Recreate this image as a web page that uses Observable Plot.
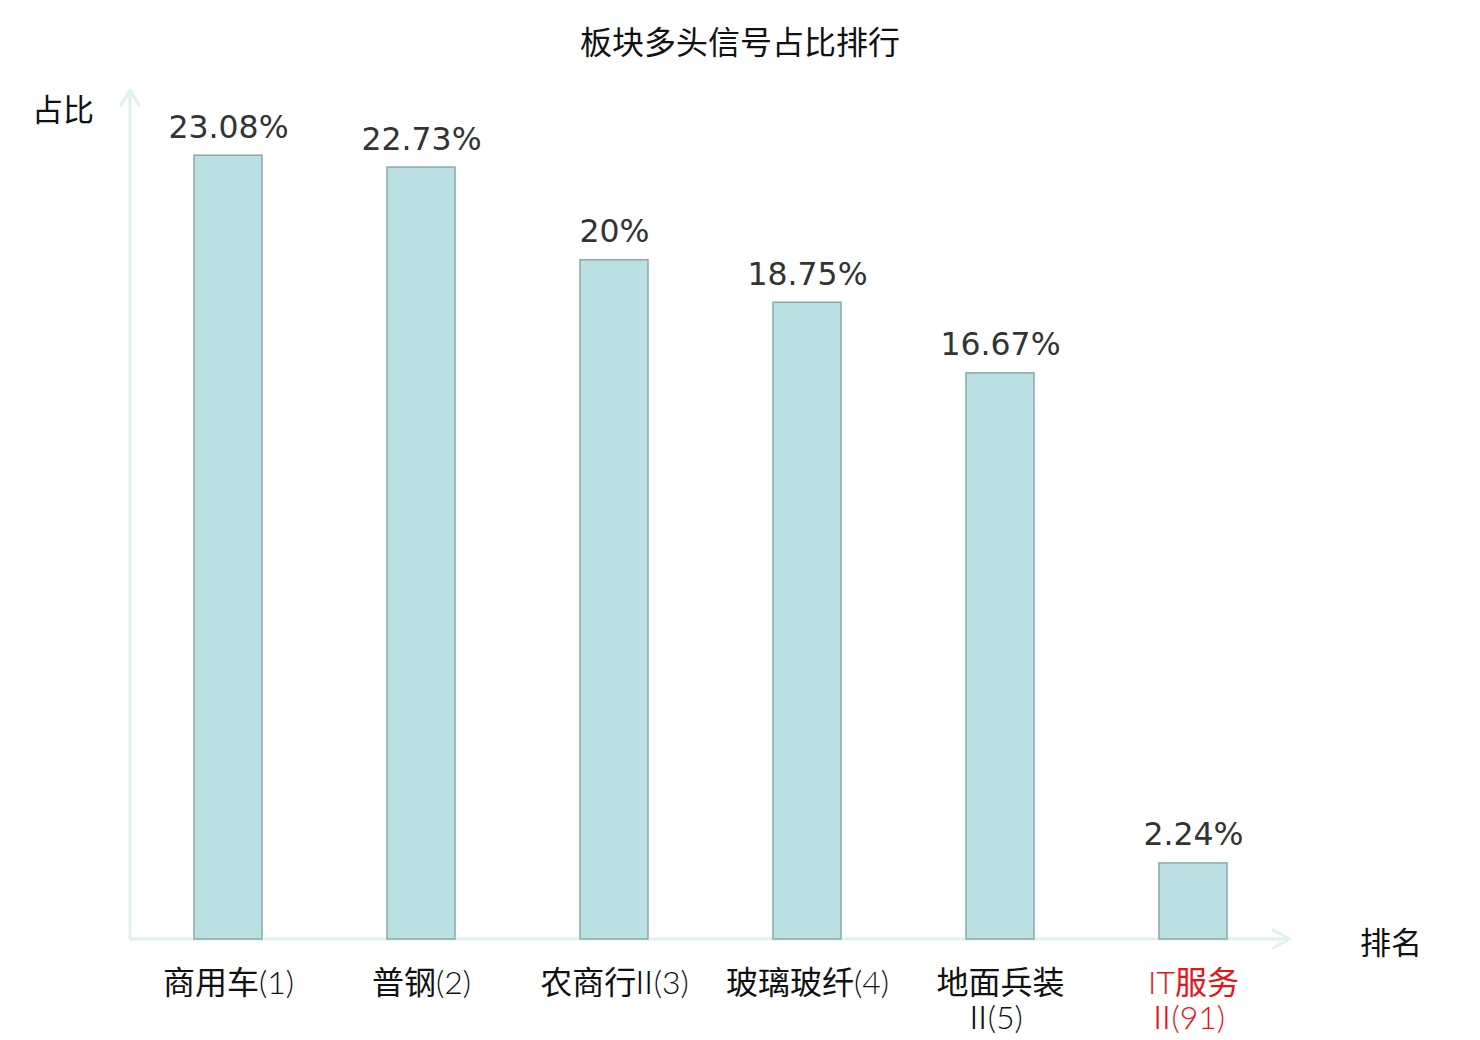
<!DOCTYPE html>
<html>
<head>
<meta charset="utf-8">
<script src="https://cdn.jsdelivr.net/npm/d3@7"></script>
<script src="https://cdn.jsdelivr.net/npm/@observablehq/plot@0.6"></script>
<style>
  html, body { margin: 0; padding: 0; background: #fff; }
  #chart svg { display: block; }
</style>
</head>
<body>
<div id="chart"></div>
<script>
const title = "板块多头信号占比排行";
const categories = ["商用车(1)", "普钢(2)", "农商行Ⅱ(3)", "玻璃玻纤(4)", "地面兵装Ⅱ(5)", "IT服务Ⅱ(91)"];
const tickLabels = ["商用车(1)", "普钢(2)", "农商行Ⅱ(3)", "玻璃玻纤(4)", "地面兵装\nⅡ(5)", "IT服务\nⅡ(91)"];
const values = [23.08, 22.73, 20, 18.75, 16.67, 2.24];
const valueLabels = ["23.08%", "22.73%", "20%", "18.75%", "16.67%", "2.24%"];
const highlighted = ["IT服务Ⅱ(91)"];
const yName = "占比";
const xName = "排名";

const data = categories.map((c, i) => ({
  cat: c, tick: tickLabels[i], value: values[i], label: valueLabels[i],
  hi: highlighted.includes(c)
}));

const cjk = "'Noto Sans CJK SC', 'DejaVu Sans', sans-serif";
const tickFont = "'Lato Light', 'DejaVu Sans', 'Noto Sans CJK SC', sans-serif";
const axisColor = "#dff2ef";

function axesMark(index, scales, values, dims) {
  const g = d3.create("svg:g");
  const [x0, x1] = scales.scales.x.range;
  const y0 = scales.y(0);
  const yTop = scales.y(25);
  const path = `M${x0},${y0}L${x1},${y0}M${x0},${y0}L${x0},${yTop}`;
  g.append("path").attr("d", path).attr("fill", "none").attr("stroke", axisColor).attr("stroke-width", 3);
  g.append("path")
    .attr("d", `M${x0 - 9},${yTop + 15}L${x0},${yTop}L${x0 + 9},${yTop + 15}M${x1 - 17},${y0 - 9}L${x1},${y0}L${x1 - 17},${y0 + 9}`)
    .attr("fill", "none").attr("stroke", axisColor).attr("stroke-width", 3)
    .attr("stroke-linecap", "round").attr("stroke-linejoin", "round");
  g.append("text").attr("x", dims.width / 2).attr("y", 40)
    .attr("text-anchor", "middle").attr("dominant-baseline", "central")
    .style("font-family", cjk).style("font-size", "32px").attr("fill", "#111").text(title);
  g.append("text").attr("x", 63).attr("y", yTop + 17)
    .attr("text-anchor", "middle").attr("dominant-baseline", "central")
    .style("font-family", cjk).style("font-size", "31px").attr("fill", "#111").text(yName);
  g.append("text").attr("x", x1 + 101).attr("y", y0 + 1)
    .attr("text-anchor", "middle").attr("dominant-baseline", "central")
    .style("font-family", cjk).style("font-size", "31px").attr("fill", "#111").text(xName);
  return g.node();
}

const chart = Plot.plot({
  width: 1480,
  height: 1040,
  marginLeft: 130,
  marginRight: 190,
  marginTop: 90,
  marginBottom: 101,
  style: { background: "#fff", fontFamily: cjk },
  x: { domain: categories, paddingInner: 0.65, paddingOuter: 0.325, axis: null },
  y: { domain: [0, 25], axis: null },
  marks: [
    axesMark,
    Plot.barY(data, {
      x: "cat", y: "value",
      fill: "#bbe0e3", stroke: "#8aa9a9", strokeWidth: 1.5
    }),
    Plot.text(data, {
      x: "cat", y: "value", text: "label",
      lineAnchor: "bottom", dy: -18,
      fontSize: 31.5, fill: "#333",
      fontFamily: "'DejaVu Sans', sans-serif"
    }),
    Plot.text(data, {
      x: "cat", y: () => 0, text: "tick",
      lineAnchor: "top", dy: 30, lineHeight: 1.08,
      fontSize: 32,
      fill: d => d.hi ? "#e8141b" : "#111",
      fontFamily: tickFont
    })
  ]
});

// render the Roman numeral Ⅱ with a light, tight glyph as in the reference
(function lightenNumeral(root) {
  const walker = document.createTreeWalker(root, NodeFilter.SHOW_TEXT);
  const nodes = [];
  while (walker.nextNode()) if (walker.currentNode.data.includes("Ⅱ")) nodes.push(walker.currentNode);
  for (const node of nodes) {
    const parts = node.data.split("Ⅱ");
    const frag = document.createDocumentFragment();
    parts.forEach((p, i) => {
      if (i > 0) {
        const ts = document.createElementNS("http://www.w3.org/2000/svg", "tspan");
        ts.setAttribute("font-family", "'Noto Sans CJK SC'");
        ts.setAttribute("font-weight", "300");
        ts.setAttribute("dx", "-0.25em");
        ts.setAttribute("letter-spacing", "-0.2em");
        ts.textContent = "Ⅱ";
        frag.appendChild(ts);
        const after = document.createElementNS("http://www.w3.org/2000/svg", "tspan");
        after.textContent = p;
        frag.appendChild(after);
      } else if (p) {
        frag.appendChild(document.createTextNode(p));
      }
    });
    node.parentNode.replaceChild(frag, node);
  }
})(chart);

document.getElementById("chart").appendChild(chart);
</script>
</body>
</html>
